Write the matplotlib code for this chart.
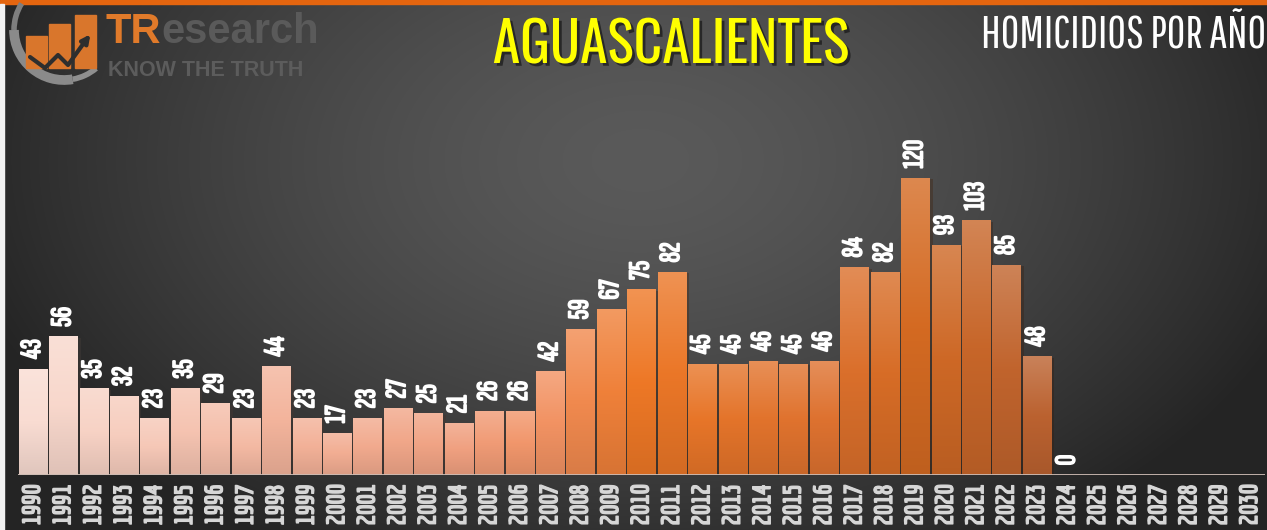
import numpy as np
import matplotlib
matplotlib.use("Agg")
import matplotlib.pyplot as plt
import matplotlib.patheffects as pe
from matplotlib.colors import LinearSegmentedColormap, to_rgb
from matplotlib.patches import Rectangle, Arc

years = list(range(1990, 2031))
homicidios = [43, 56, 35, 32, 23, 35, 29, 23, 44, 23, 17, 23, 27, 25, 21, 26, 26,
              42, 59, 67, 75, 82, 45, 45, 46, 45, 46, 84, 82, 120, 93, 103, 85, 48, 0,
              None, None, None, None, None, None]

title = "AGUASCALIENTES"
subtitle = "HOMICIDIOS POR AÑO"

W, H = 1267, 530
fig = plt.figure(figsize=(W / 100, H / 100), dpi=100)

# background: radial grey gradient
bg = fig.add_axes([0, 0, 1, 1])
yy, xx = np.mgrid[0:H, 0:W]
r = np.sqrt(((xx - 640) / 700.0) ** 2 + ((yy - 160) / 450.0) ** 2)
r = np.clip(r, 0, 1) ** 1.5
g = (0x5a - (0x5a - 0x24) * r) / 255.0
bg.imshow(np.dstack([g, g, g]), aspect="auto", extent=[0, W, H, 0])
bg.add_patch(Rectangle((0, 0), W, 4, color="#e4650f"))
bg.add_patch(Rectangle((0, 4), 4, H, color="#f2f2f2"))
bg.set_xlim(0, W)
bg.set_ylim(H, 0)
bg.axis("off")

# bar colours (light pink -> orange -> burnt orange)
cmap = LinearSegmentedColormap.from_list("tr", [
    (0.0, "#f9dcd2"), (8 / 33, "#f3b49c"), (14 / 33, "#f0a080"), (17 / 33, "#f29262"),
    (20 / 33, "#ee7826"), (23 / 33, "#e4742a"), (26 / 33, "#de7230"), (29 / 33, "#d46a22"),
    (1.0, "#bb6230")])

ax = fig.add_axes([17.8 / W, 55 / H, 1247.6 / W, 385 / H])
ax.set_facecolor("none")
x = np.arange(len(years))
vals = np.array([np.nan if v is None else v for v in homicidios], dtype=float)
bars = ax.bar(x, np.nan_to_num(vals), width=0.94, zorder=2)
for i, b in enumerate(bars):
    if np.isnan(vals[i]) or vals[i] == 0:
        b.set_visible(False)
        continue
    base = np.array(to_rgb(cmap(i / 33)))
    top = 0.8 * base + 0.2 * np.ones(3)
    bot = 0.9 * base
    t = np.linspace(0, 1, 64)[:, None]
    grad = np.where(t < 0.5, top + (base - top) * (t / 0.5), base + (bot - base) * ((t - 0.5) / 0.5))
    b.set_facecolor(base)
    b.set_edgecolor("none")
    b.set_path_effects([pe.SimplePatchShadow(offset=(2, -1), alpha=0.35), pe.Normal()])
    im = ax.imshow(grad[:, None, :], extent=[b.get_x(), b.get_x() + b.get_width(), 0, b.get_height()],
                   aspect="auto", zorder=3, interpolation="bilinear")
    im.set_clip_path(b)

bold_white = [pe.withStroke(linewidth=1.3, foreground="white")]
for i, v in enumerate(vals):
    if np.isnan(v):
        continue
    ax.annotate(f"{int(v)}", (x[i], v), xytext=(0, 7), textcoords="offset points",
                ha="center", va="bottom", rotation=90, color="white", fontsize=21,
                family=["Sofia Sans Extra Condensed", "DejaVu Sans"], fontweight="bold", zorder=5,
                path_effects=bold_white)

ax.axhline(0, color="#cdbbb3", lw=1.3, zorder=4)
ax.set_xlim(-0.5, len(years) - 0.5)
ax.set_ylim(0, 155.6)
ax.set_yticks([])
ax.set_xticks(x)
ax.set_xticklabels([str(y) for y in years], rotation=90, color="#d6d6d6", fontsize=18,
                   family=["Economica", "DejaVu Sans"], fontweight="bold")
for lbl in ax.get_xticklabels():
    lbl.set_path_effects([pe.withStroke(linewidth=0.9, foreground="#d6d6d6")])
ax.tick_params(axis="x", length=0, pad=7)
for s in ax.spines.values():
    s.set_visible(False)

# titles
fig.text(671 / W, 1 - 63 / H, title, ha="center", va="baseline", color="#ffff00", fontsize=40,
         family=["Oswald", "DejaVu Sans"], fontweight="bold",
         path_effects=[pe.withSimplePatchShadow(offset=(2, -2), shadow_rgbFace="black", alpha=0.5)])
fig.text(1124 / W, 1 - 48 / H, subtitle, ha="center", va="baseline", color="white", fontsize=32.5,
         family=["Pathway Gothic One", "DejaVu Sans"])

# logo
lg = fig.add_axes([0, 0, 1, 1])
lg.set_xlim(0, W)
lg.set_ylim(H, 0)
lg.axis("off")
lg.add_patch(Arc((64, 30), 100, 100, theta1=50, theta2=80, lw=4, color="#8f8f8f"))
lg.add_patch(Arc((64, 30), 100, 100, theta1=80, theta2=180, lw=7, color="#8a8a8a"))
lg.add_patch(Arc((64, 30), 100, 100, theta1=180, theta2=212, lw=4, color="#7e7e7e"))
for bx, by in [(26, 36), (49, 24), (75, 15)]:
    lg.add_patch(Rectangle((bx, by), 21, 68 - by, color="#d9762c"))
lg.plot([30, 45, 58, 68, 86], [57, 68, 55, 65, 40], color="#2e2e2e", lw=3, solid_capstyle="round")
lg.annotate("", xy=(92, 32), xytext=(84, 43),
            arrowprops=dict(arrowstyle="-|>", color="#2e2e2e", lw=3, mutation_scale=12))
tr = lg.text(106, 43, "TR", color="#e07a2a", fontsize=30, fontweight="bold",
             family=["Liberation Sans", "DejaVu Sans"], va="baseline")
lg.annotate("esearch", xy=(1, 0), xycoords=tr, va="bottom", ha="left", color="#5a5a5a", fontsize=30,
            fontweight="bold", family=["Liberation Sans", "DejaVu Sans"])
lg.text(108, 76, "KNOW THE TRUTH", color="#5c5c5c", fontsize=15.5, fontweight="bold",
        family=["Liberation Sans", "DejaVu Sans"], va="baseline")

fig.savefig("out.png", dpi=100)
